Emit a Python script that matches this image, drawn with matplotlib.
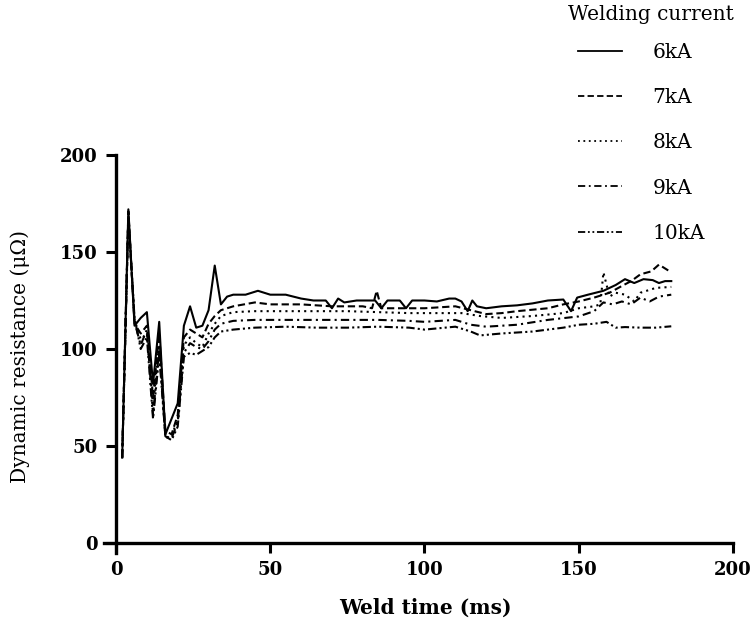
import matplotlib.pyplot as plt

# Weld time (ms) and dynamic resistance (micro-ohm) per welding current
t_6ka = [2, 4, 6, 8, 10, 12, 14, 16, 18, 20, 22, 24, 26, 28, 30, 32, 34, 36, 38,
         42, 46, 50, 55, 60, 64, 68, 70, 72, 74, 78, 82, 84, 86, 88, 92, 94, 96,
         100, 104, 108, 110, 112, 114, 115.5, 117, 120, 125, 130, 135, 140, 145,
         147.5, 149.5, 153, 158, 162, 165, 168, 171, 174, 176, 178, 180]
r_6ka = [44, 172, 112, 116, 119, 82, 114, 56, 64, 72, 112, 122, 111, 112, 120, 143, 123, 127, 128,
         128, 130, 128, 128, 126, 125, 125, 121, 126, 124, 125, 125, 125, 121, 125, 125, 121, 125,
         125, 124.5, 126, 126, 124.5, 119.5, 125, 122, 121, 122, 122.5, 123.5, 125, 125.5,
         119.5, 126.5, 128, 130, 133, 136, 134, 136, 135.5, 134, 135, 135]

t_7ka = [2, 4, 6, 8, 10, 12, 14, 16, 18, 20, 22, 24, 26, 28, 30, 32, 34, 38, 45, 50,
         60, 70, 75, 80, 83, 84.5, 86, 90, 100, 110, 115, 120, 125, 130, 140, 145,
         150, 155, 160, 164, 167, 170, 173.5, 176, 180]
r_7ka = [44, 171, 113, 108, 112, 75, 108, 58, 56, 66, 106, 110, 108, 106, 113, 117, 120, 122, 124, 123,
         123, 122, 122, 122, 121, 130, 121, 121, 121, 122, 120, 118, 118.5, 119.5, 121, 123,
         124.5, 126.5, 129, 132.5, 135, 138.5, 140, 143.5, 139.5]

t_8ka = [2, 4, 6, 8, 10, 12, 14, 16, 18, 20, 22, 24, 26, 28, 30, 32, 34, 38, 45, 55,
         65, 75, 85, 95, 105, 112, 118, 125, 135, 145, 150, 155, 157, 158, 160, 162,
         165, 168, 170, 172, 175, 180]
r_8ka = [44, 170, 115, 105, 108, 70, 104, 54, 55, 64, 102, 106, 103, 101, 108, 113, 117, 119, 119.5, 119.5,
         119.5, 119.5, 119, 118.5, 118.5, 118.5, 117, 116, 117, 118.5, 121, 122, 123, 139.5, 127, 129,
         128, 124.5, 129, 130, 131.5, 132]

t_9ka = [2, 4, 6, 8, 10, 12, 14, 16, 18, 20, 22, 24, 26, 28, 30, 32, 34, 38, 45, 55,
         65, 75, 85, 95, 100, 110, 115, 120, 130, 140, 150, 155, 158, 161, 164, 167,
         170, 173, 176, 180]
r_9ka = [44, 169, 114, 102, 110, 66, 100, 55, 54, 62, 98, 103, 101, 100, 104, 110, 113, 114.5, 115, 115,
         115, 115, 115, 114.5, 114, 115, 112.5, 111.5, 112.5, 115, 116.8, 119.5, 124, 123, 124.5, 123,
         126.5, 124.5, 127, 128]

t_10ka = [2, 4, 6, 8, 10, 12, 14, 16, 18, 20, 22, 24, 26, 28, 30, 32, 34, 38, 45, 55,
          65, 75, 85, 95, 100, 110, 115, 118, 125, 135, 145, 150, 155, 159, 162, 165,
          170, 175, 180]
r_10ka = [44, 168, 116, 100, 106, 64, 97, 55, 53, 60, 96, 98, 97, 99, 101, 106, 109, 110, 111, 111.5,
          111, 111, 111.5, 111, 110, 111.5, 109, 107, 108, 109, 111, 112.5, 113, 114, 111, 111.3,
          111, 111, 111.7]

labels = ['6kA', '7kA', '8kA', '9kA', '10kA']
x_ticks = [0, 50, 100, 150, 200]
y_ticks = [0, 50, 100, 150, 200]

series = [(t_6ka, r_6ka), (t_7ka, r_7ka), (t_8ka, r_8ka), (t_9ka, r_9ka), (t_10ka, r_10ka)]
styles = ['-', (0, (3.5, 1.8)), (0, (1, 2)), (0, (4, 2, 1, 2)), (0, (4, 1.5, 1, 1.5, 1, 1.5))]

plt.rcParams['font.family'] = ['DejaVu Serif']

fig = plt.figure(figsize=(7.53, 6.27), dpi=100)
ax = fig.add_axes([0.1377, 0.1185, 0.8357, 0.6343])

for (t, r), ls, lab in zip(series, styles, labels):
    ax.plot(t, r, color='black', linestyle=ls, linewidth=1.5, label=lab)

ax.set_xlim(-4, 200)
ax.set_ylim(-5, 200)
ax.spines['left'].set_position(('data', 0))
ax.spines['bottom'].set_position(('data', 0))
for side in ['top', 'right']:
    ax.spines[side].set_visible(False)
for side in ['left', 'bottom']:
    ax.spines[side].set_linewidth(2.4)

ax.set_xticks(x_ticks)
ax.set_yticks(y_ticks)
ax.tick_params(axis='both', direction='out', length=7, width=2.2, labelsize=13, pad=6)
for lbl in ax.get_xticklabels() + ax.get_yticklabels():
    lbl.set_fontweight('bold')

fig.text(0.565, 0.03, 'Weld time (ms)', ha='center', va='center',
         fontsize=14.5, fontweight='bold')
fig.text(0.027, 0.432, 'Dynamic resistance (\u03bc\u03a9)', ha='center', va='center',
         rotation=90, fontsize=14.5)

# legend title sits a bit left of the handles
fig.text(568 / 753, 1 - 15 / 627, 'Welding current', ha='left', va='center', fontsize=14.5)
leg = ax.legend(loc='upper left', bbox_to_anchor=(578 / 753, 1 - 43 / 627),
                bbox_transform=fig.transFigure, frameon=False, fontsize=14.5,
                handlelength=2.2, handletextpad=1.5,
                labelspacing=1.3, borderpad=0, borderaxespad=0)
for line in leg.get_lines():
    line.set_linewidth(1.3)

fig.savefig('out.png', dpi=100)
